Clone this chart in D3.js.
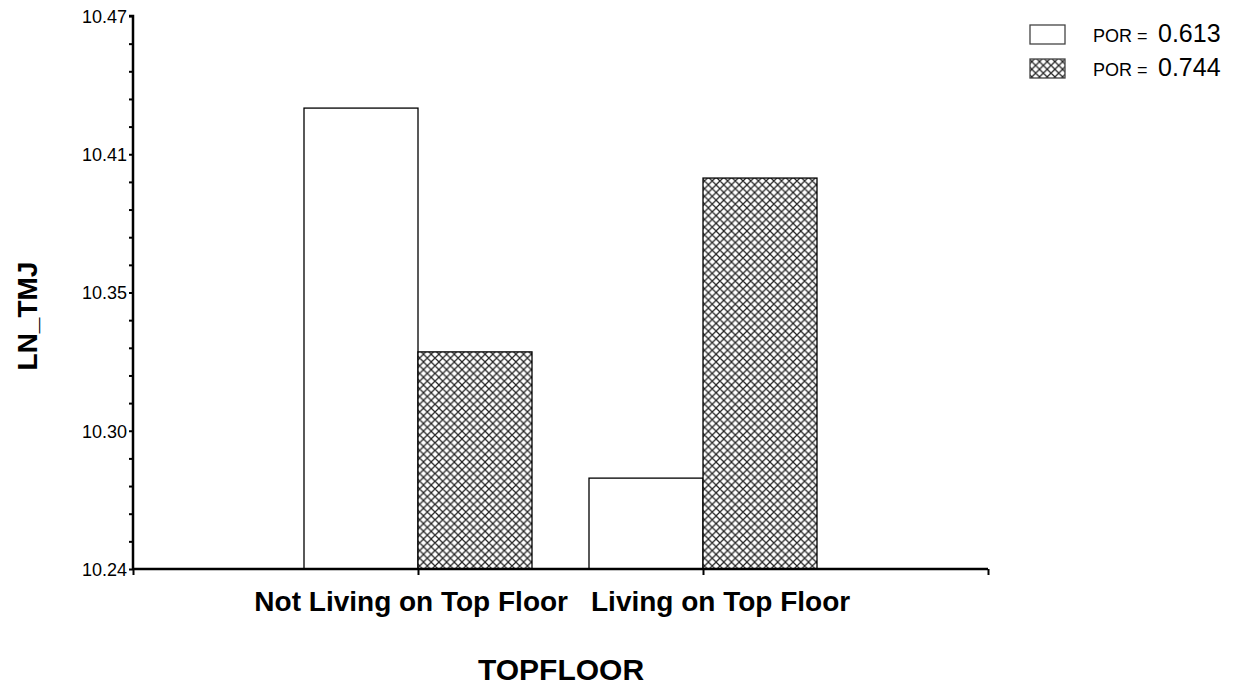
<!DOCTYPE html>
<html>
<head>
<meta charset="utf-8">
<script src="https://cdn.jsdelivr.net/npm/d3@7"></script>
<style>
  html, body { margin: 0; padding: 0; background: #fff; }
  svg { display: block; font-family: Arial, "Liberation Sans", sans-serif; }
</style>
</head>
<body>
<svg id="chart" width="1234" height="688"></svg>
<script>
// ---- data ----
const categories = ["Not Living on Top Floor", "Living on Top Floor"];
const seriesNames = ["0.613", "0.744"];
const seriesPOR0613 = [10.4317, 10.2778];
const seriesPOR0744 = [10.3303, 10.4026];
const yTickLabels = ["10.24", "10.30", "10.35", "10.41", "10.47"];
const yDomain = [10.24, 10.47];
const xTitle = "TOPFLOOR";
const yTitle = "LN_TMJ";

const svg = d3.select("#chart");

// hatch pattern
const defs = svg.append("defs");
const p = 7.7;
const pat = defs.append("pattern")
  .attr("id", "xhatch").attr("patternUnits", "userSpaceOnUse")
  .attr("width", p).attr("height", p);
pat.append("rect").attr("width", p).attr("height", p).attr("fill", "#fff");
pat.append("path")
  .attr("d", `M0,0L${p},${p}M${p},0L0,${p}M${-p/2},${p/2}L${p/2},${p*1.5}M${p/2},${-p/2}L${p*1.5},${p/2}`)
  .attr("stroke", "#222").attr("stroke-width", 1.2).attr("fill", "none");

// scales
const x0 = 133, x1 = 988, yTop = 16, yBot = 569;
const xPos = d3.scalePoint().domain(["_s", ...categories, "_e"]).range([x0, x1]);
const step = xPos.step();
const xSub = d3.scaleBand().domain(seriesNames).range([-0.4 * step, 0.4 * step]).padding(0);
const y = d3.scaleLinear().domain(yDomain).range([yBot, yTop]);

// bars
const seriesData = [seriesPOR0613, seriesPOR0744];
const fills = ["#fff", "url(#xhatch)"];
seriesNames.forEach((s, si) => {
  svg.append("g").selectAll("rect").data(categories).join("rect")
    .attr("x", c => xPos(c) + xSub(s))
    .attr("y", (c, i) => y(seriesData[si][i]))
    .attr("width", xSub.bandwidth())
    .attr("height", (c, i) => yBot - y(seriesData[si][i]))
    .attr("fill", fills[si])
    .attr("stroke", "#000").attr("stroke-width", 1.3);
});

// y axis
const nMinor = 20;
const minorTicks = d3.range(nMinor + 1).map(i => yDomain[0] + i * (yDomain[1] - yDomain[0]) / nMinor);
const yAxis = d3.axisLeft(y).tickValues(minorTicks).tickSize(4)
  .tickFormat((d, i) => i % 5 === 0 ? yTickLabels[i / 5] : "");
const gy = svg.append("g").attr("transform", `translate(${x0},0)`).call(yAxis);
gy.select(".domain").attr("stroke-width", 2.5).attr("d", `M-4,${yTop}H0V${yBot}`);
gy.selectAll(".tick line").attr("stroke-width", 2);
gy.selectAll(".tick text").attr("font-size", 18).attr("fill", "#000").attr("dx", 1).attr("dy", "0.36em")
  .attr("font-family", "Arial, 'Liberation Sans', sans-serif");

// x axis
const xAxis = d3.axisBottom(xPos).tickSize(6).tickFormat("");
const gx = svg.append("g").attr("transform", `translate(0,${yBot})`).call(xAxis);
gx.select(".domain").attr("stroke-width", 2.5).attr("d", `M${x0},0H${x1}`);
gx.selectAll(".tick line").attr("stroke-width", 2);

// category labels
const labelAnchor = ["end", "start"];
const labelDx = [150, -112];
svg.append("g").selectAll("text").data(categories).join("text")
  .attr("x", (c, i) => xPos(c) + labelDx[i])
  .attr("y", 611)
  .attr("text-anchor", (c, i) => labelAnchor[i])
  .attr("font-size", 28).attr("font-weight", "bold")
  .text(c => c);

// axis titles
svg.append("text").attr("x", 561).attr("y", 680).attr("text-anchor", "middle")
  .attr("font-size", 30).attr("font-weight", "bold").text(xTitle);
svg.append("text").attr("transform", "translate(37,316) rotate(-90)")
  .attr("text-anchor", "middle").attr("font-size", 28).attr("font-weight", "bold").text(yTitle);

// legend
const lg = svg.append("g");
seriesNames.forEach((s, i) => {
  const yy = 25 + i * 34;
  lg.append("rect").attr("x", 1030).attr("y", yy).attr("width", 35).attr("height", 19)
    .attr("fill", fills[i]).attr("stroke", "#444").attr("stroke-width", 1.3);
  const t = lg.append("text").attr("x", 1093).attr("y", yy + 17);
  t.append("tspan").attr("font-size", 18).text("POR = ");
  t.append("tspan").attr("x", 1158).attr("font-size", 25).text(s);
});
</script>
</body>
</html>
